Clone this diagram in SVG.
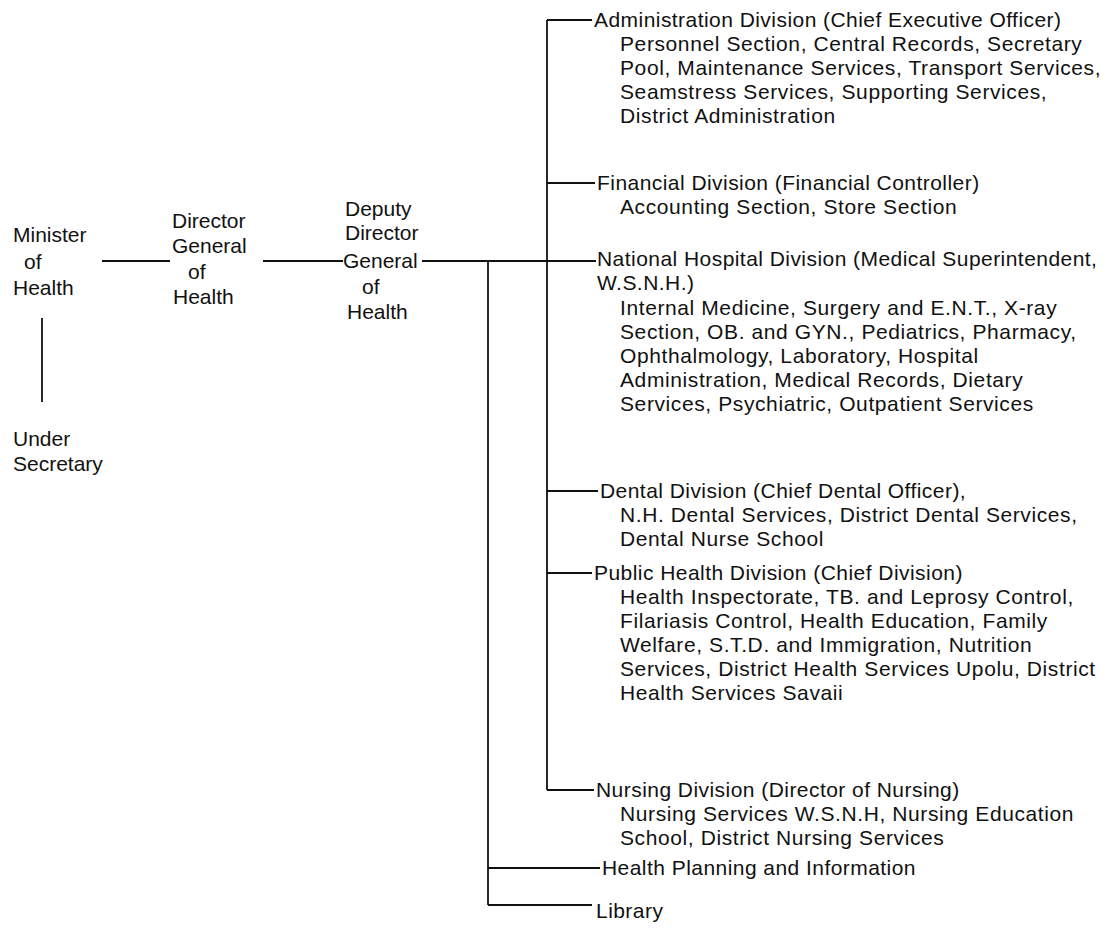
<svg xmlns="http://www.w3.org/2000/svg" width="1112" height="929" viewBox="0 0 1112 929">
<style>
text{font-family:"Liberation Sans",Arial,sans-serif;font-size:21px;fill:#111}
.h{letter-spacing:0.45px}
.s{letter-spacing:0.6px}
.c line{stroke:#111;stroke-width:1.8;fill:none}
</style>
<rect width="1112" height="929" fill="#fff"/>
<g class="c" id="connectors">
<line x1="42" y1="318" x2="42" y2="402"/>
<line x1="102" y1="261" x2="170" y2="261"/>
<line x1="263" y1="261" x2="343" y2="261"/>
<line x1="422" y1="261" x2="596" y2="261"/>
<line x1="547" y1="20" x2="547" y2="790"/>
<line x1="547" y1="20" x2="592" y2="20"/>
<line x1="547" y1="183" x2="595" y2="183"/>
<line x1="547" y1="491" x2="598" y2="491"/>
<line x1="547" y1="573" x2="592" y2="573"/>
<line x1="547" y1="790" x2="594" y2="790"/>
<line x1="488" y1="261" x2="488" y2="905"/>
<line x1="488" y1="868" x2="600" y2="868"/>
<line x1="488" y1="905" x2="592" y2="905"/>
</g>
<g id="minister"><text x="13" y="242">Minister</text><text x="24" y="269">of</text><text x="13" y="295">Health</text></g>
<g id="under-secretary"><text x="13" y="446">Under</text><text x="13" y="471">Secretary</text></g>
<g id="director-general"><text x="172" y="228">Director</text><text x="172" y="253">General</text><text x="188" y="279">of</text><text x="173" y="304">Health</text></g>
<g id="deputy-director-general"><text x="345" y="216">Deputy</text><text x="345" y="240">Director</text><text x="343" y="268">General</text><text x="362" y="294">of</text><text x="347" y="319">Health</text></g>
<g id="administration"><text class="h" x="594" y="27">Administration Division (Chief Executive Officer)</text>
<text class="s" x="620" y="51">Personnel Section, Central Records, Secretary</text>
<text class="s" x="620" y="75">Pool, Maintenance Services, Transport Services,</text>
<text class="s" x="620" y="99">Seamstress Services, Supporting Services,</text>
<text class="s" x="620" y="123">District Administration</text></g>
<g id="financial"><text class="h" x="597" y="190">Financial Division (Financial Controller)</text>
<text class="s" x="620" y="214">Accounting Section, Store Section</text></g>
<g id="national-hospital"><text class="h" x="597" y="266">National Hospital Division (Medical Superintendent,</text>
<text class="h" x="597" y="290">W.S.N.H.)</text>
<text class="s" x="620" y="315">Internal Medicine, Surgery and E.N.T., X-ray</text>
<text class="s" x="620" y="339">Section, OB. and GYN., Pediatrics, Pharmacy,</text>
<text class="s" x="620" y="363">Ophthalmology, Laboratory, Hospital</text>
<text class="s" x="620" y="387">Administration, Medical Records, Dietary</text>
<text class="s" x="620" y="411">Services, Psychiatric, Outpatient Services</text></g>
<g id="dental"><text class="h" x="600" y="498">Dental Division (Chief Dental Officer),</text>
<text class="s" x="620" y="522">N.H. Dental Services, District Dental Services,</text>
<text class="s" x="620" y="546">Dental Nurse School</text></g>
<g id="public-health"><text class="h" x="594" y="580">Public Health Division (Chief Division)</text>
<text class="s" x="620" y="604">Health Inspectorate, TB. and Leprosy Control,</text>
<text class="s" x="620" y="628">Filariasis Control, Health Education, Family</text>
<text class="s" x="620" y="652">Welfare, S.T.D. and Immigration, Nutrition</text>
<text class="s" x="620" y="676">Services, District Health Services Upolu, District</text>
<text class="s" x="620" y="700">Health Services Savaii</text></g>
<g id="nursing"><text class="h" x="596" y="797">Nursing Division (Director of Nursing)</text>
<text class="s" x="620" y="821">Nursing Services W.S.N.H, Nursing Education</text>
<text class="s" x="620" y="845">School, District Nursing Services</text></g>
<g id="health-planning"><text class="h" x="602" y="875">Health Planning and Information</text></g>
<g id="library"><text class="h" x="596" y="918">Library</text></g>
</svg>
